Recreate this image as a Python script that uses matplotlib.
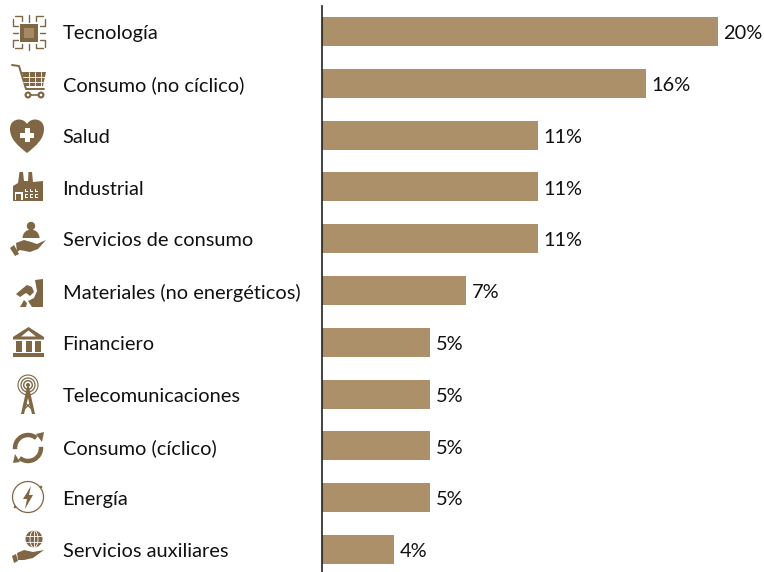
import matplotlib
matplotlib.use("Agg")
import matplotlib.pyplot as plt
from matplotlib.patches import Circle, Rectangle, Polygon, Wedge, Arc, PathPatch
from matplotlib.path import Path

categories = ["Tecnología", "Consumo (no cíclico)", "Salud", "Industrial", "Servicios de consumo",
              "Materiales (no energéticos)", "Financiero", "Telecomunicaciones", "Consumo (cíclico)",
              "Energía", "Servicios auxiliares"]
values = [20, 16.36, 10.9, 10.9, 10.9, 7.27, 5.45, 5.45, 5.45, 5.45, 3.64]
value_labels = ["20%", "16%", "11%", "11%", "11%", "7%", "5%", "5%", "5%", "5%", "4%"]

BAR = "#AB9069"
ICON = "#7F6644"
W, H = 764, 572
plt.rcParams['font.family'] = ['Lato', 'DejaVu Sans']
fig = plt.figure(figsize=(W/100, H/100), dpi=100)

# main chart
ax = fig.add_axes([322/W, 0, (W-322)/W, (H-6)/H])
y = list(range(len(categories)))
ax.barh(y, values, height=0.56, color=BAR)
step = 51.8
ax.set_ylim((572 - 31.5)/step, (6 - 31.5)/step)
ax.set_xlim(0, (W-322)/(396/20))
for s in ax.spines.values():
    s.set_visible(False)
ax.spines['left'].set_visible(True)
ax.spines['left'].set_color('#222222')
ax.spines['left'].set_linewidth(1.2)
ax.set_xticks([]); ax.set_yticks([])
FS = 14.4
for i, (v, t, c) in enumerate(zip(values, value_labels, categories)):
    ax.annotate(t, (v, i), xytext=(4, -0.5), textcoords='offset points', va='center_baseline', ha='left', fontsize=FS, color='#111111')
    ax.annotate(c, (0, i), xytext=(-259.5/1.3889, -0.5), textcoords='offset points', va='center_baseline', ha='left', fontsize=FS, color='#111111', annotation_clip=False)

# decorative icons, drawn in figure pixel coordinates
ic = fig.add_axes([0, 0, 60/W, 1])
ic.set_xlim(0, 60); ic.set_ylim(H, 0); ic.axis('off'); ic.patch.set_alpha(0)
def poly(p, c=ICON, **k): ic.add_patch(Polygon(p, closed=True, fc=c, ec='none', **k))
def rect(x, y, w, h, c=ICON, **k): ic.add_patch(Rectangle((x, y), w, h, fc=c, ec='none', **k))
def circ(x, y, r, c=ICON): ic.add_patch(Circle((x, y), r, fc=c, ec='none'))
def ring(x, y, r, lw=1.0, c=ICON): ic.add_patch(Circle((x, y), r, fc='none', ec=c, lw=lw))
def line(xs, ys, lw=1.0, c=ICON): ic.plot(xs, ys, color=c, lw=lw, solid_capstyle='round')

# technology
rect(20, 24, 18, 18); rect(24, 28, 10, 10, '#A58A62')
for d in (-7, 0, 7):
    line([29+d, 29+d], [15, 22]) if d == 0 else line([29+d*2, 29+d, 29+d], [16, 16, 21])
    line([29+d, 29+d], [44, 50]) if d == 0 else line([29+d, 29+d, 29+d*2], [44, 48, 48])
    line([13, 18], [33+d, 33+d]) if d == 0 else line([13, 13, 18], [33+d*2, 33+d, 33+d])
    line([40, 45], [33+d, 33+d]) if d == 0 else line([40, 45, 45], [33+d, 33+d, 33+d*2])

# cart
line([12, 19, 26, 44], [65, 66, 89, 89], 1.4)
poly([(22, 72), (46, 72), (43, 86), (25, 86)])
for x in (29, 35, 41):
    line([x, x], [72, 86], 0.6, 'white')
for yy in (77, 82):
    line([23, 45], [yy, yy], 0.6, 'white')
for x in (28, 41):
    circ(x, 95, 3.5); circ(x, 95, 1.3, 'white')
line([31, 38], [95, 95], 1.2)

# heart
C4 = Path.CURVE4
ic.add_patch(PathPatch(Path(
    [(27, 153), (18, 146), (10, 139), (10, 129), (10, 122), (15, 119.5), (19, 119.5),
     (23, 119.5), (26, 122), (27, 124), (28, 122), (31, 119.5), (35, 119.5),
     (39, 119.5), (44, 122), (44, 129), (44, 139), (36, 146), (27, 153)],
    [Path.MOVETO] + [C4] * 18), fc=ICON, ec='none'))
rect(24.5, 128, 5, 14, 'white'); rect(20, 132.5, 14, 5, 'white')

# factory
poly([(13, 201), (13, 186), (18, 183), (19.5, 172), (23, 172), (24, 181), (28, 181), (28.5, 172), (32, 172), (33, 182), (43, 181), (43, 201)])
rect(14.5, 192, 8, 8, 'white'); rect(16, 193.5, 5, 6.5, ICON)
for xx in (25, 30, 35):
    for yy in (188.5, 194):
        rect(xx, yy, 3.4, 3.6, 'white')
        rect(xx+0.9, yy+0.9, 1.6, 1.8, ICON)

# consumer services
circ(31, 226, 4.2)
ic.add_patch(Wedge((31, 238), 8.5, 180, 360, fc=ICON, ec='none'))
poly([(16, 243), (24, 240), (31, 242), (37, 244), (46, 240), (38, 249), (30, 252), (20, 250), (17, 252)])
poly([(10, 248), (14, 245), (19, 254), (15, 256)])

# materials
poly([(16, 294), (22, 289), (27, 285), (32, 287), (34, 292), (30, 296), (26, 293), (20, 297)])
poly([(35, 280), (43, 279), (43, 307), (32, 307), (28, 301), (34, 298), (37, 291)])
poly([(20, 307), (24, 300), (27, 303), (26, 307)])

# financial
poly([(28.5, 327), (44, 337), (44, 339.5), (13, 339.5), (13, 337)])
poly([(28.5, 330.5), (36, 336.5), (21, 336.5)], 'white')
for x in (16, 25.5, 35):
    rect(x, 341, 6, 11)
rect(13, 353, 31, 4)

# telecom
for r, lw in ((10, 0.8), (7, 0.9), (4.3, 1.0)):
    ring(28, 385, r, lw)
circ(28, 385, 2)
poly([(27, 387), (29, 387), (35, 414), (32, 414), (28, 398), (24, 414), (21, 414)])
line([25, 33], [403, 410], 1.0); line([31, 23], [403, 410], 1.0)

# cyclical
ic.add_patch(Arc((28, 448), 26, 26, theta1=175, theta2=310, color=ICON, lw=3.2))
ic.add_patch(Arc((28, 448), 26, 26, theta1=-5, theta2=130, color=ICON, lw=3.2))
poly([(36, 434), (44, 432), (42, 442)])
poly([(20, 462), (13, 463), (15, 454)])

# energy
ic.add_patch(Arc((28, 497), 31, 31, theta1=0, theta2=360, color=ICON, lw=0.9))
circ(41, 487, 1.3); circ(15, 507, 1.3)
poly([(31, 486), (23, 499), (27, 499), (25, 509), (33, 495), (29, 495)])

# auxiliary services
circ(34, 539, 8.5)
for xs, ys in (([26, 42], [536, 536]), ([26, 42], [542, 542]), ([34, 34], [531, 548])):
    line(xs, ys, 0.6, 'white')
ic.add_patch(Arc((34, 539), 8, 17, color='white', lw=0.6))
poly([(17, 553), (24, 550), (33, 552), (44, 550), (33, 558), (24, 560), (18, 560)])
poly([(12, 556), (16, 554), (18, 561), (14, 563)])

fig.savefig("out.png", dpi=100)
